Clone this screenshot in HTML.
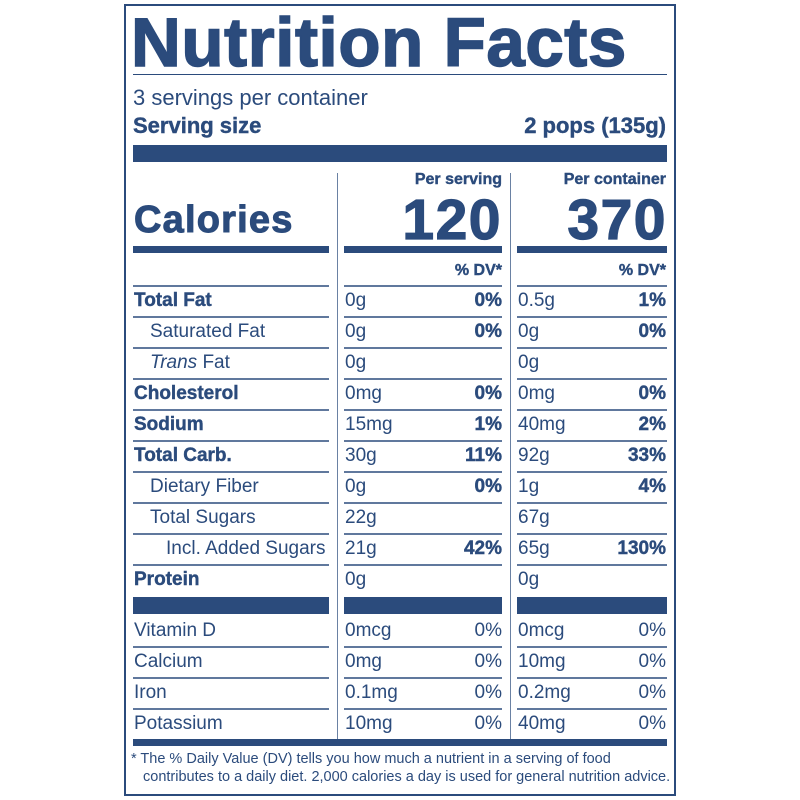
<!DOCTYPE html><html><head><style>
body{margin:0;background:#fff}
#c{position:relative;width:800px;height:800px;font-family:"Liberation Sans",Arial,sans-serif;color:#2b4b7c}
.a{position:absolute;white-space:nowrap}
.b{font-weight:bold;-webkit-text-stroke:0.4px #2b4b7c}
.r{text-align:right}
.ln{position:absolute;background:#2b4b7c}
</style></head><body><div id="c">
<div class="a" style="left:124px;top:4px;width:548px;height:788px;border:2px solid #2b4b7c"></div>
<div class="a b" style="left:131px;top:3px;font-size:69px;letter-spacing:0.6px;-webkit-text-stroke:1.5px #2b4b7c">Nutrition Facts</div>
<div class="ln" style="left:133px;top:74px;width:534px;height:1px"></div>
<div class="a" style="left:133px;top:85px;font-size:22px">3 servings per container</div>
<div class="a b" style="left:133px;top:113px;font-size:22px">Serving size</div>
<div class="a b r" style="right:134px;top:113px;font-size:22px">2 pops (135g)</div>
<div class="ln" style="left:133px;top:145px;width:534px;height:17px"></div>
<div class="ln" style="left:337px;top:173px;width:1px;height:566px;opacity:.7"></div>
<div class="ln" style="left:510px;top:173px;width:1px;height:566px;opacity:.7"></div>
<div class="a b r" style="right:298px;top:171px;font-size:16px">Per serving</div>
<div class="a b r" style="right:134px;top:171px;font-size:16px">Per container</div>
<div class="a b r" style="right:298px;top:187px;font-size:57px;letter-spacing:1.5px;-webkit-text-stroke:1.2px #2b4b7c">120</div>
<div class="a b r" style="right:133px;top:187px;font-size:57px;letter-spacing:1.5px;-webkit-text-stroke:1.2px #2b4b7c">370</div>
<div class="a b" style="left:134px;top:199px;font-size:38px;letter-spacing:1.2px;-webkit-text-stroke:1px #2b4b7c">Calories</div>
<div class="ln" style="left:133px;top:246px;width:196px;height:7px"></div>
<div class="ln" style="left:344px;top:246px;width:158px;height:7px"></div>
<div class="ln" style="left:517px;top:246px;width:150px;height:7px"></div>
<div class="a b r" style="right:298px;top:262px;font-size:16px">% DV*</div>
<div class="a b r" style="right:134px;top:262px;font-size:16px">% DV*</div>
<div id="rows"></div>
<div class="ln" style="left:133px;top:597px;width:196px;height:17px"></div>
<div class="ln" style="left:344px;top:597px;width:158px;height:17px"></div>
<div class="ln" style="left:517px;top:597px;width:150px;height:17px"></div>
<div class="ln" style="left:133px;top:739px;width:534px;height:7px"></div>
<div class="a" style="left:131px;top:751px;font-size:14.5px">* The % Daily Value (DV) tells you how much a nutrient in a serving of food</div>
<div class="a" style="left:143px;top:769px;font-size:14.5px">contributes to a daily diet. 2,000 calories a day is used for general nutrition advice.</div>
</div>
<script>
var R=[["Total Fat",1,0,"0g","0%","0.5g","1%"],["Saturated Fat",0,16,"0g","0%","0g","0%"],["<i>Trans</i> Fat",0,16,"0g","","0g",""],["Cholesterol",1,0,"0mg","0%","0mg","0%"],["Sodium",1,0,"15mg","1%","40mg","2%"],["Total Carb.",1,0,"30g","11%","92g","33%"],["Dietary Fiber",0,16,"0g","0%","1g","4%"],["Total Sugars",0,16,"22g","","67g",""],["Incl. Added Sugars",0,32,"21g","42%","65g","130%"],["Protein",1,0,"0g","","0g",""]];
var V=[["Vitamin D","0mcg","0%","0mcg","0%"],["Calcium","0mg","0%","10mg","0%"],["Iron","0.1mg","0%","0.2mg","0%"],["Potassium","10mg","0%","40mg","0%"]];
var h="";
function lines(y){h+='<div class="ln" style="left:133px;top:'+y+'px;width:196px;height:1.5px;opacity:.75"></div><div class="ln" style="left:344px;top:'+y+'px;width:158px;height:1.5px;opacity:.75"></div><div class="ln" style="left:517px;top:'+y+'px;width:150px;height:1.5px;opacity:.75"></div>';}
R.forEach(function(r,i){var y=285+31*i;lines(y);var t=y+5;
h+='<div class="a'+(r[1]?' b':'')+'" style="left:'+(134+r[2])+'px;top:'+t+'px;font-size:19px">'+r[0]+'</div>';
h+='<div class="a" style="left:345px;top:'+t+'px;font-size:19px">'+r[3]+'</div>';
h+='<div class="a b r" style="right:298px;top:'+t+'px;font-size:19px">'+r[4]+'</div>';
h+='<div class="a" style="left:518px;top:'+t+'px;font-size:19px">'+r[5]+'</div>';
h+='<div class="a b r" style="right:134px;top:'+t+'px;font-size:19px">'+r[6]+'</div>';});
V.forEach(function(r,i){var y=615+31*i;if(i>0)lines(y);var t=y+5;
h+='<div class="a" style="left:134px;top:'+t+'px;font-size:19px">'+r[0]+'</div>';
h+='<div class="a" style="left:345px;top:'+t+'px;font-size:19px">'+r[1]+'</div>';
h+='<div class="a r" style="right:298px;top:'+t+'px;font-size:19px">'+r[2]+'</div>';
h+='<div class="a" style="left:518px;top:'+t+'px;font-size:19px">'+r[3]+'</div>';
h+='<div class="a r" style="right:134px;top:'+t+'px;font-size:19px">'+r[4]+'</div>';});
document.getElementById("rows").outerHTML=h;
</script>
</body></html>
